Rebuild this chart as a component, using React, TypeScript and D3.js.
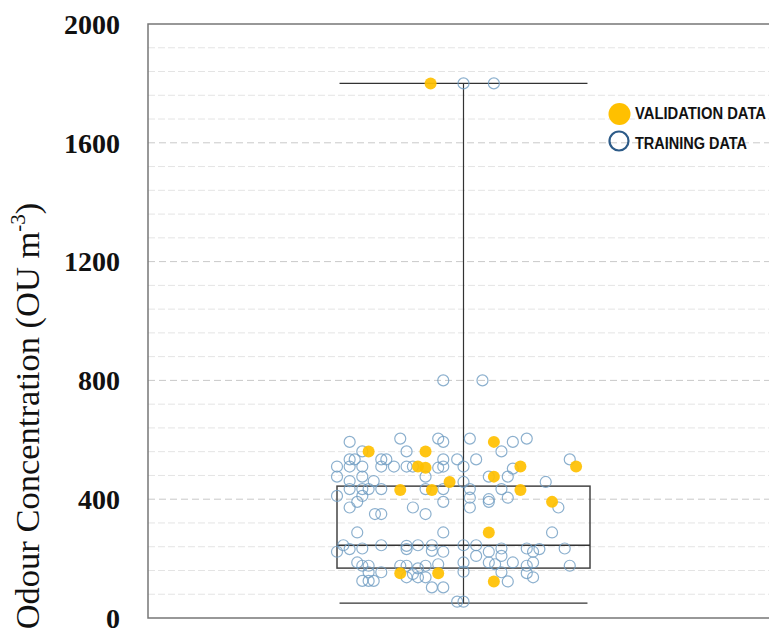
import React from 'react';
import * as d3 from 'd3';

// odour concentration (OU m-3) with a horizontal jitter in [-1, 1] across the box width
const trainingJitter = [
  -0.90, -0.50, -0.20, -0.16, 0.05, 0.39, 0.50, -0.80, -0.45, 0.30,
  -0.90, -0.86, -0.65, -0.61, -0.16, -0.05, 0.10, 0.84,
  -1.00, -0.90, -0.80, -0.65, -0.55, -0.45, -0.40, -0.20, -0.16, 0.00, 0.39,
  -1.00, -0.90, -0.80, -0.71, -0.30, 0.20, 0.35, 0.00, 0.65,
  -0.90, -0.80, -0.75, -0.65, -0.30, -0.16, 0.05, 0.30,
  -1.00, -0.80, 0.05, 0.20, 0.35, 0.75,
  -0.90, -0.84, -0.40, -0.16, 0.05, 0.20,
  -0.70, -0.65, -0.30, -0.84, -0.16, 0.70,
  -0.95, -0.80, -0.65, -0.45, -0.45, -0.36, -0.25, -0.25, 0.00, 0.10, 0.30, 0.50, 0.55, 0.60, 0.80,
  -1.00, -0.90, -0.16, 0.20, 0.30, 0.10,
  -0.84, -0.80, -0.75, -0.50, -0.45, -0.36, -0.30, -0.20, 0.00, 0.20, 0.25, 0.39, 0.50, 0.55, 0.84,
  -0.75, -0.65, -0.45, -0.40, -0.36, -0.30, 0.00, 0.30, 0.50, 0.55,
  -0.80, -0.75, -0.71, 0.35, -0.25, -0.16, -0.05, 0.00,
  0.00, 0.24, -0.16, 0.15,
];
const trainingValues = [
  593, 604, 604, 593, 604, 593, 604, 561, 561, 561,
  534, 534, 534, 534, 534, 534, 534, 534,
  510, 510, 510, 510, 510, 510, 510, 506, 510, 510, 503,
  476, 461, 476, 461, 476, 476, 476, 458, 458,
  434, 434, 434, 434, 434, 434, 434, 434,
  411, 411, 405, 400, 405, 372,
  372, 391, 372, 391, 372, 391,
  350, 350, 350, 288, 288, 288,
  245, 234, 245, 243, 232, 245, 245, 226, 245, 245, 234, 234, 223, 232, 234,
  223, 232, 223, 223, 209, 209,
  187, 176, 176, 176, 176, 167, 176, 181, 187, 187, 181, 187, 176, 187, 176,
  154, 154, 137, 148, 137, 137, 156, 154, 151, 137,
  125, 125, 125, 123, 103, 103, 55, 55,
  1800, 1800, 800, 800,
];

const validationJitter = [
  0.24, -0.75, -0.30, -0.36, -0.30, 0.45, 0.89, 0.24, -0.11,
  -0.50, -0.25, 0.45, 0.70, 0.20, -0.50, -0.20, 0.24, -0.26,
];
const validationValues = [
  593, 561, 561, 510, 506, 510, 510, 476, 458,
  431, 431, 431, 391, 288, 151, 151, 123, 1800,
];

// box-plot summary
const whiskerRange = [50, 1800];
const quartiles = [168, 245, 444];

const yTicks = [0, 400, 800, 1200, 1600, 2000];
const legendLabels = ['VALIDATION DATA', 'TRAINING DATA'];

const W = 769;
const H = 630;
const frame = { left: 148, top: 24, right: 776, bottom: 618 };

export default function App() {
  const y = d3.scaleLinear().domain([0, 2000]).range([frame.bottom, frame.top]);
  const x = d3.scaleLinear().domain([-1, 1]).range([337, 590]);
  const minor = d3.range(80, 2000, 80).filter(v => v % 400 !== 0);
  const major = yTicks.filter(v => v > 0 && v < 2000);

  const training = trainingValues.map((v, i) => ({ j: trainingJitter[i], v }));
  const validation = validationValues.map((v, i) => ({ j: validationJitter[i], v }));

  return (
    <svg width={W} height={H} style={{ position: 'absolute', left: 0, top: 0, background: '#fff' }}>
      {/* grid */}
      {minor.map(v => (
        <line key={'m' + v} x1={frame.left} x2={frame.right} y1={y(v)} y2={y(v)}
          stroke="#e4e4e4" strokeWidth={1} strokeDasharray="7,3" />
      ))}
      {major.map(v => (
        <line key={'M' + v} x1={frame.left} x2={frame.right} y1={y(v)} y2={y(v)}
          stroke="#c9c9c9" strokeWidth={1} strokeDasharray="7,4" />
      ))}

      {/* frame */}
      <path d={`M${frame.right},${frame.top}H${frame.left}V${frame.bottom}H${frame.right}`}
        fill="none" stroke="#777" strokeWidth={1.5} />

      {/* y ticks */}
      {yTicks.map(v => (
        <text key={v} x={120} y={y(v)} dy="0.35em" textAnchor="end"
          fontFamily="Liberation Serif" fontWeight="bold" fontSize={28} fill="#111">
          {v}
        </text>
      ))}

      <text transform={`translate(39,${416}) rotate(-90)`} textAnchor="middle"
        fontFamily="Liberation Serif" fontSize={34.5} fill="#111">
        Odour Concentration (OU m<tspan fontSize={21} dy={-14}>-3</tspan><tspan dy={14}>)</tspan>
      </text>

      {/* box plot */}
      <line x1={x(0)} x2={x(0)} y1={y(whiskerRange[1])} y2={y(whiskerRange[0])} stroke="#333" strokeWidth={1.2} />
      <line x1={x(-0.98)} x2={x(0.98)} y1={y(whiskerRange[1])} y2={y(whiskerRange[1])} stroke="#333" strokeWidth={1.2} />
      <line x1={x(-0.98)} x2={x(0.98)} y1={y(whiskerRange[0])} y2={y(whiskerRange[0])} stroke="#333" strokeWidth={1.2} />
      <rect x={x(-1)} width={x(1) - x(-1)} y={y(quartiles[2])} height={y(quartiles[0]) - y(quartiles[2])}
        fill="none" stroke="#444" strokeWidth={1.5} />
      <line x1={x(-1)} x2={x(1)} y1={y(quartiles[1])} y2={y(quartiles[1])} stroke="#333" strokeWidth={1.5} />

      {/* points */}
      {training.map((d, i) => (
        <circle key={'t' + i} cx={x(d.j)} cy={y(d.v)} r={5.5}
          fill="none" stroke="#6f9cc2" strokeOpacity={0.8} strokeWidth={1.2} />
      ))}
      {validation.map((d, i) => (
        <circle key={'v' + i} cx={x(d.j)} cy={y(d.v)} r={6}
          fill="#ffc000" fillOpacity={0.92} />
      ))}

      {/* legend */}
      <circle cx={619.5} cy={114} r={11} fill="#ffc000" />
      <circle cx={619} cy={141} r={9.5} fill="none" stroke="#2d5b88" strokeWidth={2.2} />
      <text x={635} y={113.5} dy="0.35em" fontFamily="Liberation Sans" fontWeight="bold" fontSize={16}
        textLength={131} lengthAdjust="spacingAndGlyphs" fill="#111">{legendLabels[0]}</text>
      <text x={635} y={143} dy="0.35em" fontFamily="Liberation Sans" fontWeight="bold" fontSize={16}
        textLength={112} lengthAdjust="spacingAndGlyphs" fill="#111">{legendLabels[1]}</text>
    </svg>
  );
}
